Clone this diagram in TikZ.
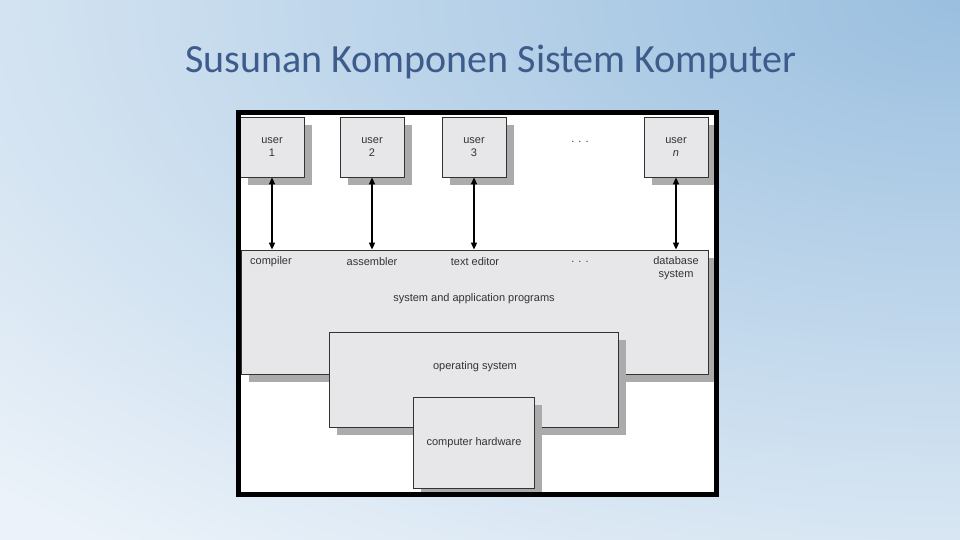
\documentclass[tikz,border=0pt]{standalone}
\usepackage{fontspec}
\setmainfont{Liberation Sans}
\newfontfamily\titlefont{Carlito}
\usetikzlibrary{shadows, arrows.meta}
\definecolor{slidetop}{HTML}{9ABFDF}
\definecolor{slidebottom}{HTML}{EBF2F9}
\definecolor{titleblue}{HTML}{3D5C8C}
\definecolor{boxgray}{HTML}{E7E7E9}
\definecolor{shadowgray}{HTML}{ABABAB}
\newcommand{\diagfont}{\fontsize{11}{13.5}\selectfont}

\tikzset{
    layer/.style={draw=black!80, line width=0.8pt, fill=boxgray, inner sep=0pt,
        general shadow={shadow xshift=8pt, shadow yshift=-8pt, fill=shadowgray}},
    userbox/.style={layer, minimum width=64pt, minimum height=60pt,
        align=center, font=\diagfont, text=black!80},
    tag/.style={font=\diagfont, text=black!80, align=center, inner sep=1pt},
    link/.style={{Triangle[length=7pt,width=6pt]}-{Triangle[length=7pt,width=6pt]},
        line width=1.5pt},
}

\begin{document}
\begin{tikzpicture}[x=1pt, y=-1pt]
    \useasboundingbox (0,0) rectangle (960,540);
    \begin{scope}
    \clip (0,0) rectangle (960,540);
    \fill[slidebottom] (0,0) rectangle (960,540);
    \shade[inner color=slidetop, outer color=slidebottom] (960,0) ellipse (1350 and 700);
    \end{scope}

    \node[font=\titlefont\fontsize{40}{48}\selectfont, text=titleblue, anchor=base]
        (title) at (491,73) {Susunan Komponen Sistem Komputer};

    \coordinate (frameNW) at (238.5,112.5);
    \coordinate (frameSE) at (716.5,494.5);
    \fill[white] (frameNW) rectangle (frameSE);

    \begin{scope}
    \clip (frameNW) rectangle (frameSE);
    % users
    \node[userbox] (user1) at (272,147) {user\\1};
    \node[userbox] (user2) at (372,147) {user\\2};
    \node[userbox] (user3) at (474,147) {user\\3};
    \node[tag] (userdots) at (580,142) {. . .};
    \node[userbox] (usern) at (676,147) {user\\\textit{n}};

    % layers
    \node[layer, minimum width=467pt, minimum height=124pt] (sysapp) at (474.5,312) {};
    \node[tag] (compiler) at (271,262) {compiler};
    \node[tag] (assembler) at (372,262) {assembler};
    \node[tag] (editor) at (475,262) {text editor};
    \node[tag] (progdots) at (580,262) {. . .};
    \node[tag] (database) at (676,268) {database\\system};
    \node[tag] (sysapplabel) at (474,299) {system and application programs};

    \node[layer, minimum width=289pt, minimum height=95pt] (os) at (473.5,379.5) {};
    \node[tag] (oslabel) at (475,367) {operating system};

    \node[layer, minimum width=121pt, minimum height=91pt] (hw) at (473.5,442.5) {};
    \node[tag] (hwlabel) at (474,443) {computer hardware};

    % links
    \foreach \u in {user1,user2,user3,usern}
        \draw[link] (\u.south) -- (\u.south |- sysapp.north);
    \end{scope}

    \draw[line width=5pt] (frameNW) rectangle (frameSE);
\end{tikzpicture}
\end{document}
